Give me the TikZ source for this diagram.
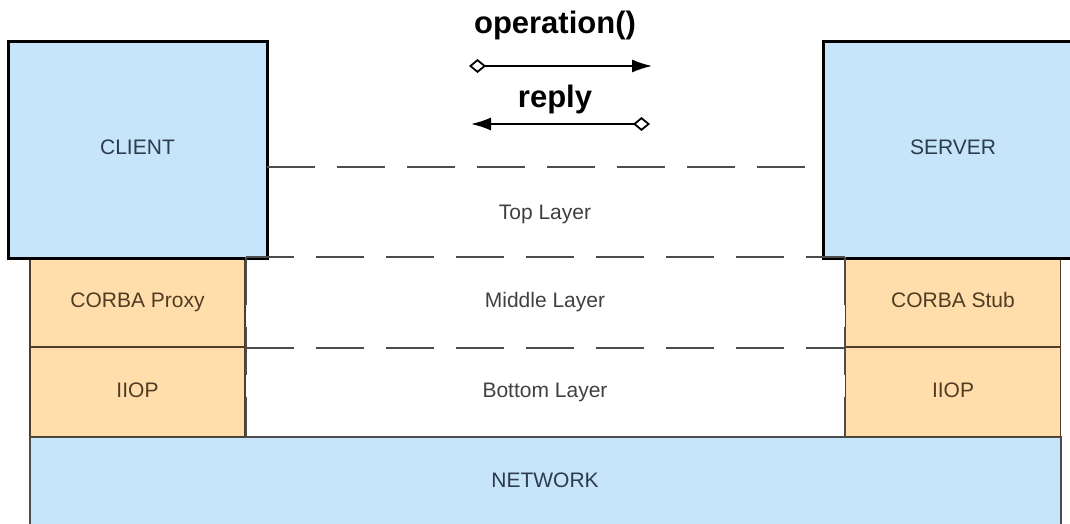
\documentclass[tikz,border=0pt]{standalone}
\usepackage{fontspec}
\setmainfont{Liberation Sans}
\usetikzlibrary{arrows.meta}

\definecolor{boxblue}{RGB}{198,228,250}
\definecolor{boxorange}{RGB}{255,222,172}
\definecolor{bluetext}{RGB}{45,60,75}
\definecolor{browntext}{RGB}{80,60,35}
\definecolor{browndraw}{RGB}{80,60,40}

\tikzset{
  endbox/.style={fill=boxblue,draw=black,line width=3pt,inner sep=0pt,text=bluetext,font=\fontsize{21}{25}\selectfont,text height=15pt,text depth=6pt},
  orabox/.style={fill=boxorange,draw=browndraw,line width=1.5pt,inner sep=0pt,text=browntext,font=\fontsize{21}{25}\selectfont,minimum width=215pt,minimum height=89pt,text height=15pt,text depth=5pt},
  netbox/.style={fill=boxblue,draw=black!70,line width=1.5pt,inner sep=0pt},
  layerline/.style={draw=black!70,line width=2pt,dash pattern=on 48pt off 22pt},
  layertext/.style={text=black!75,font=\fontsize{21}{25}\selectfont,text height=15pt,text depth=5pt},
  msgtext/.style={font=\bfseries\fontsize{31}{36}\selectfont},
  msgarrow/.style={line width=1.6pt,{Diamond[open,length=17pt,width=14pt,line width=1.8pt]}-{Latex[length=20pt,width=13pt]}}
}

\begin{document}
\begin{tikzpicture}[x=1pt,y=-1pt]
            \useasboundingbox (0,0) rectangle (1070,524);

            \node[style={netbox,minimum width=1031pt,minimum height=92pt}] (net) at (545.5,483){};
            \node[layertext,text=bluetext] (nettext) at (545,482.5){NETWORK};

            \node[style={orabox}] (proxy) at (137.5,302.5){CORBA Proxy};
            \node[style={orabox}] (iiopl) at (137.5,392){IIOP};
            \node[style={orabox}] (stub) at (953,302.5){CORBA Stub};
            \node[style={orabox}] (iiopr) at (953,392){IIOP};

            \node[style={endbox,minimum width=259pt,minimum height=216pt}] (client) at (137.5,150){CLIENT};
            \node[style={endbox,minimum width=260pt,minimum height=216pt}] (server) at (953,150){SERVER};

            \coordinate (topl) at (267,167);
            \coordinate (topr) at (823,167);
            \draw[layerline] (topl)--(topr) (proxy.north east)--(stub.north west) (proxy.south east)--(stub.south west) (iiopl.south east)--(iiopr.south west);
            \draw[layerline] (proxy.north east)--(iiopl.south east) (stub.north west)--(iiopr.south west);

            \node[layertext] (top) at (545,214.5){Top Layer};
            \node[layertext] (mid) at (545,302.5){Middle Layer};
            \node[layertext] (bot) at (545,392.5){Bottom Layer};

            \node[msgtext] (op) at (555,25){operation()};
            \node[msgtext] (rep) at (555,99){reply};
            \coordinate (opa) at (469,66);
            \coordinate (opb) at (652,66);
            \coordinate (repa) at (650,124);
            \coordinate (repb) at (471,124);
            \draw[msgarrow] (opa)--(opb);
            \draw[msgarrow] (repa)--(repb);

\end{tikzpicture}
\end{document}
